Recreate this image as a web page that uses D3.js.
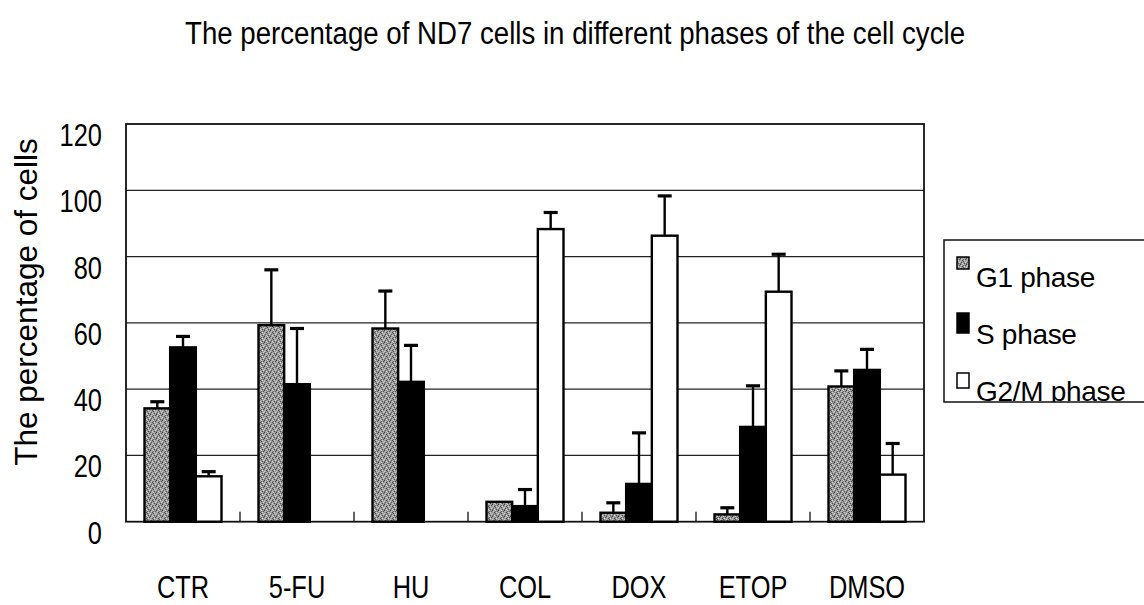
<!DOCTYPE html>
<html><head><meta charset="utf-8">
<script src="https://cdn.jsdelivr.net/npm/d3@7"></script>
<style>
html,body{margin:0;padding:0;background:#fff;}
svg{display:block;}
text{font-family:"Liberation Sans",Arial,sans-serif;fill:#000;}
</style></head>
<body><svg id="chart" width="1144" height="605"></svg>
<script>
const categories = ["CTR","5-FU","HU","COL","DOX","ETOP","DMSO"];
const seriesNames = ["G1 phase","S phase","G2/M phase"];
const g1Values  = [34.2, 59.3, 58.3, 6.0, 2.7, 2.2, 40.8];
const g1Errors  = [2.0, 16.7, 11.3, 0, 3.0, 2.0, 4.7];
const sValues   = [52.6, 41.5, 42.2, 4.7, 11.4, 28.6, 45.8];
const sErrors   = [3.3, 16.8, 11.0, 5.0, 15.4, 12.4, 6.2];
const g2mValues = [13.7, 0, 0, 88.3, 86.3, 69.4, 14.2];
const g2mErrors = [1.4, 0, 0, 5.0, 12.0, 11.3, 9.4];
const yTicks = [0,20,40,60,80,100,120];
const titleText = "The percentage of ND7 cells in different phases of the cell cycle";
const yTitle = "The percentage of cells";

const svg = d3.select("#chart");
const defs = svg.append("defs");
const pat = defs.append("pattern").attr("id","stipple").attr("patternUnits","userSpaceOnUse")
  .attr("width",6).attr("height",6);
pat.append("rect").attr("width",6).attr("height",6).attr("fill","#9a9a9a");
const dots = [[0,0,"#404040"],[3,0,"#d0d0d0"],[5,1,"#555"],[1,1,"#c8c8c8"],[2,2,"#4a4a4a"],[4,2,"#dadada"],
  [0,3,"#cfcfcf"],[3,3,"#505050"],[1,4,"#5a5a5a"],[5,4,"#d4d4d4"],[2,5,"#cccccc"],[4,5,"#484848"],[0,5,"#777"],[3,1,"#6a6a6a"]];
dots.forEach(([x,y,c])=>pat.append("rect").attr("x",x).attr("y",y).attr("width",1).attr("height",1).attr("fill",c));

const fills = ["url(#stipple)","#000","#fff"];
const values = [g1Values, sValues, g2mValues];
const errors = [g1Errors, sErrors, g2mErrors];

const L=126, R=924, T=124, B=521.7;
const x = d3.scaleBand().domain(categories).range([L,R]).paddingInner(0).paddingOuter(0);
const xs = d3.scaleBand().domain(seriesNames).range([18.5, 18.5+77]).padding(0);
const y = d3.scaleLinear().domain([0,120]).range([B,T]);

// title
svg.append("text").attr("x",575).attr("y",44).attr("text-anchor","middle")
  .attr("font-size",31).attr("textLength",780).attr("lengthAdjust","spacingAndGlyphs").text(titleText);

// gridlines
svg.append("g").selectAll("line").data(yTicks.filter(d=>d>0 && d<120)).join("line")
  .attr("x1",L).attr("x2",R).attr("y1",d=>y(d)).attr("y2",d=>y(d))
  .attr("stroke","#222").attr("stroke-width",1.3);

// plot border
svg.append("rect").attr("x",L).attr("y",T).attr("width",R-L).attr("height",B-T)
  .attr("fill","none").attr("stroke","#111").attr("stroke-width",1.8);

// category separators (ticks inside)
svg.append("g").selectAll("line").data(categories.slice(1)).join("line")
  .attr("x1",d=>x(d)).attr("x2",d=>x(d)).attr("y1",B).attr("y2",B-10)
  .attr("stroke","#111").attr("stroke-width",1.3);

// y tick labels (condensed)
svg.append("g").selectAll("text").data(yTicks).join("text")
  .attr("transform",d=>`translate(102,${y(d)+22}) scale(0.82,1)`)
  .attr("text-anchor","end").attr("font-size",31).text(d=>d);

// y title
svg.append("text").attr("transform",`translate(37,${302}) rotate(-90)`).attr("text-anchor","middle")
  .attr("font-size",31.5).text(yTitle);

// x labels (condensed)
svg.append("g").selectAll("text").data(categories).join("text")
  .attr("transform",d=>`translate(${x(d)+x.bandwidth()/2},598) scale(0.82,1)`)
  .attr("text-anchor","middle").attr("font-size",31).text(d=>d);

// bars
const rows = [];
categories.forEach((c,i)=>seriesNames.forEach((s,j)=>rows.push({c,s,j,v:values[j][i],e:errors[j][i]})));
const barG = svg.append("g");
barG.selectAll("rect").data(rows.filter(d=>d.v>0)).join("rect")
  .attr("x",d=>x(d.c)+xs(d.s)).attr("width",xs.bandwidth())
  .attr("y",d=>y(d.v)).attr("height",d=>y(0)-y(d.v))
  .attr("fill",d=>fills[d.j]).attr("stroke","#000").attr("stroke-width",2.4);

// error bars
const errG = svg.append("g");
const er = rows.filter(d=>d.e>0);
const cx = d=>x(d.c)+xs(d.s)+xs.bandwidth()/2;
errG.selectAll("line.v").data(er).join("line").attr("class","v")
  .attr("x1",cx).attr("x2",cx)
  .attr("y1",d=>y(d.v)).attr("y2",d=>y(d.v+d.e)).attr("stroke","#000").attr("stroke-width",2.4);
errG.selectAll("line.c").data(er).join("line").attr("class","c")
  .attr("x1",d=>cx(d)-7).attr("x2",d=>cx(d)+7)
  .attr("y1",d=>y(d.v+d.e)).attr("y2",d=>y(d.v+d.e)).attr("stroke","#000").attr("stroke-width",3.2);

// legend
const lg = svg.append("g");
defs.append("clipPath").attr("id","legclip").append("rect").attr("x",944).attr("y",240).attr("width",210).attr("height",162);
lg.append("rect").attr("x",944).attr("y",240).attr("width",215).attr("height",162)
  .attr("fill","#fff").attr("stroke","#111").attr("stroke-width",1.5);
const li = lg.append("g").attr("clip-path","url(#legclip)");
const swY = [257, 313, 373];
const swH = [12, 20, 15];
const txY = [287, 344, 401];
seriesNames.forEach((s,j)=>{
  li.append("rect").attr("x",957).attr("y",swY[j]).attr("width",12).attr("height",swH[j])
    .attr("fill",fills[j]).attr("stroke","#000").attr("stroke-width",1.5);
  li.append("text").attr("x",976).attr("y",txY[j]).attr("font-size",28)
    .style("letter-spacing","-0.3px").text(s);
});
</script></body></html>
